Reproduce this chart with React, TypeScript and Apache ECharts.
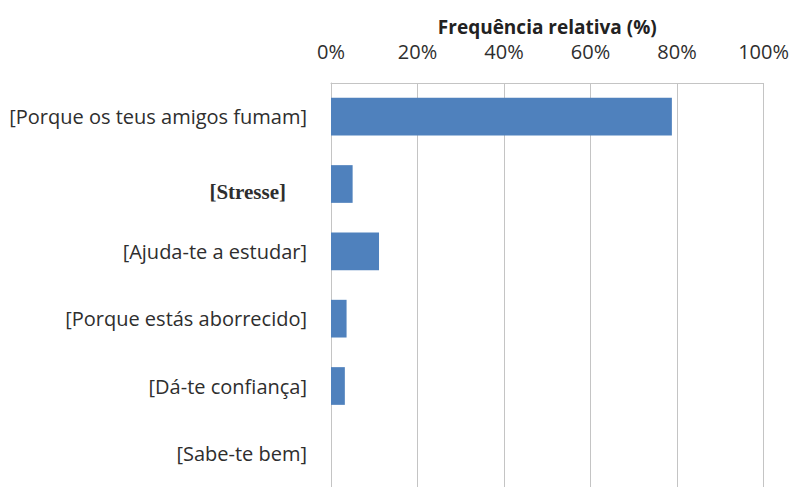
import React, { useEffect, useRef } from "react";
import * as echarts from "echarts";

const categories = [
  "[Porque os teus amigos fumam]",
  "[Stresse]",
  "[Ajuda-te a estudar]",
  "[Porque estás aborrecido]",
  "[Dá-te confiança]",
  "[Sabe-te bem]",
];
const values = [78.8, 5.0, 11.1, 3.6, 3.2, 0];
const xTicks = [0, 20, 40, 60, 80, 100];
const axisTitle = "Frequência relativa (%)";

export default function App() {
  const ref = useRef<HTMLDivElement>(null);
  useEffect(() => {
    document.body.style.margin = "0";
    const chart = echarts.init(ref.current!, null, { renderer: "svg" });
    chart.setOption({
      animation: false,
      backgroundColor: "#ffffff",
      grid: { left: 331, right: 28, top: 83, height: 410, containLabel: false },
      xAxis: {
        type: "value",
        position: "top",
        min: xTicks[0],
        max: xTicks[xTicks.length - 1],
        interval: 20,
        name: axisTitle,
        nameLocation: "middle",
        nameGap: 47,
        nameTextStyle: {
          fontFamily: "Open Sans",
          fontSize: 19,
          fontWeight: "bold",
          color: "#222",
        },
        axisLine: { show: true, lineStyle: { color: "#c4c4c4", width: 1 } },
        axisTick: { show: false },
        axisLabel: {
          formatter: "{value}%",
          margin: 22,
          fontFamily: "Open Sans",
          fontSize: 20,
          color: "#2e2e2e",
        },
        splitLine: { show: true, lineStyle: { color: "#c4c4c4", width: 1 } },
      },
      yAxis: {
        type: "category",
        inverse: true,
        data: categories,
        axisLine: { show: true, lineStyle: { color: "#c4c4c4", width: 1 } },
        axisTick: { show: false },
        axisLabel: {
          margin: 24,
          fontFamily: "Open Sans",
          fontSize: 20,
          color: "#2e2e2e",
          formatter: (v: string) => (v === "[Stresse]" ? "{s|" + v + "}" : v),
          rich: {
            s: {
              fontFamily: "Liberation Serif",
              fontWeight: "bold",
              fontSize: 21,
              color: "#2e2e2e",
              padding: [16, 21, 0, 0],
            },
          },
        },
      },
      series: [
        {
          type: "bar",
          data: values,
          barCategoryGap: "44%",
          itemStyle: { color: "#4f81bd" },
        },
      ],
    });
    return () => chart.dispose();
  }, []);
  return <div ref={ref} style={{ width: 792, height: 487 }} />;
}
